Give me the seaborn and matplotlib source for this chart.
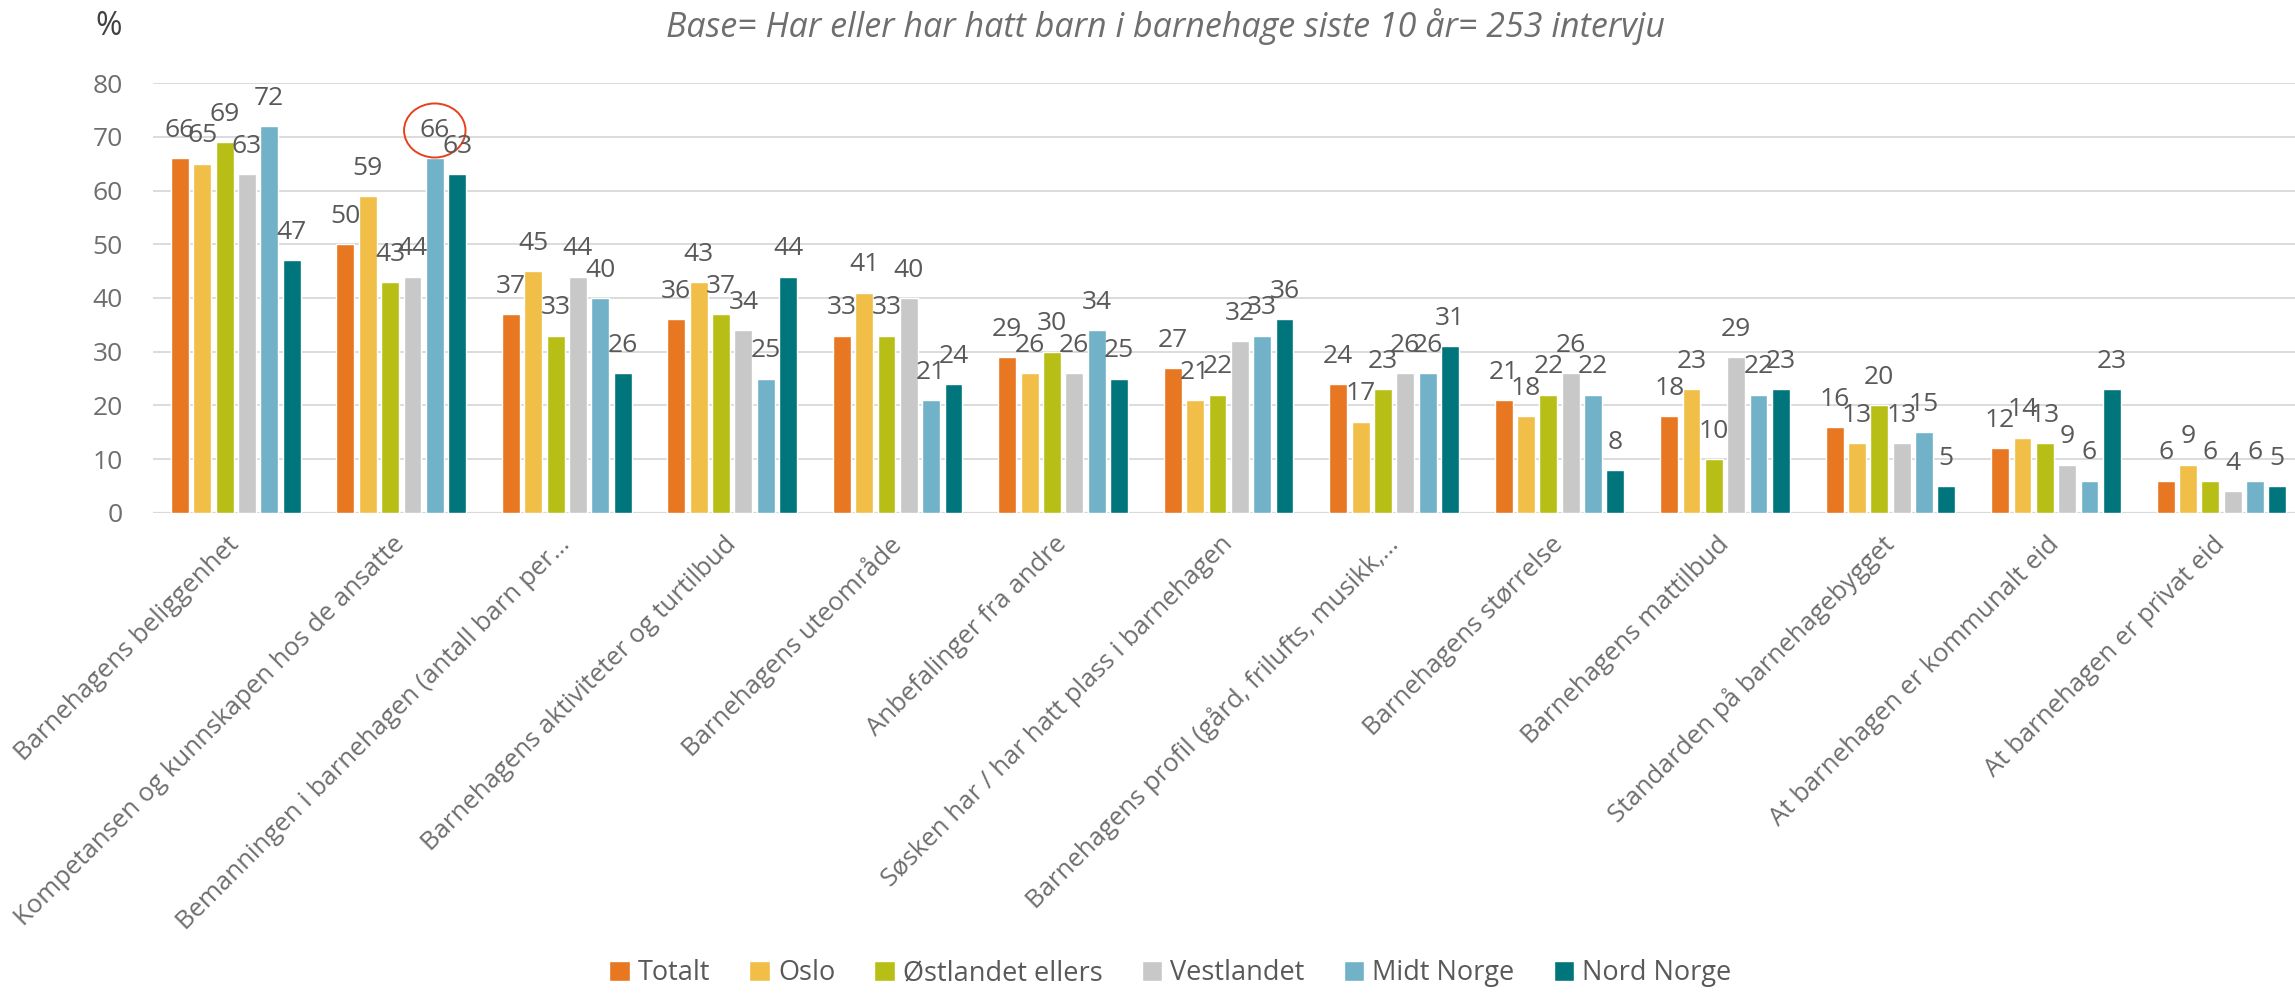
import pandas as pd
import matplotlib
matplotlib.use("Agg")
import matplotlib.pyplot as plt
import seaborn as sns

# data
categories = [
    "Barnehagens beliggenhet",
    "Kompetansen og kunnskapen hos de ansatte",
    "Bemanningen i barnehagen (antall barn per…",
    "Barnehagens aktiviteter og turtilbud",
    "Barnehagens uteområde",
    "Anbefalinger fra andre",
    "Søsken har / har hatt plass i barnehagen",
    "Barnehagens profil (gård, frilufts, musikk,…",
    "Barnehagens størrelse",
    "Barnehagens mattilbud",
    "Standarden på barnehagebygget",
    "At barnehagen er kommunalt eid",
    "At barnehagen er privat eid",
]
regions = ["Totalt", "Oslo", "Østlandet ellers", "Vestlandet", "Midt Norge", "Nord Norge"]
totalt = [66, 50, 37, 36, 33, 29, 27, 24, 21, 18, 16, 12, 6]
oslo = [65, 59, 45, 43, 41, 26, 21, 17, 18, 23, 13, 14, 9]
ostlandet = [69, 43, 33, 37, 33, 30, 22, 23, 22, 10, 20, 13, 6]
vestlandet = [63, 44, 44, 34, 40, 26, 32, 26, 26, 29, 13, 9, 4]
midt_norge = [72, 66, 40, 25, 21, 34, 33, 26, 22, 22, 15, 6, 6]
nord_norge = [47, 63, 26, 44, 24, 25, 36, 31, 8, 23, 5, 23, 5]
colors = ["#E87722", "#F1BE48", "#B7BF16", "#C8C8C8", "#71B2C9", "#00757C"]

series = [totalt, oslo, ostlandet, vestlandet, midt_norge, nord_norge]
rows = []
for reg, vals in zip(regions, series):
    for cat, v in zip(categories, vals):
        rows.append({"kategori": cat, "region": reg, "verdi": v})
df = pd.DataFrame(rows)

sns.set_theme(style="white")
plt.rcParams["font.family"] = ["Open Sans", "DejaVu Sans"]

fig = plt.figure(figsize=(22.95, 9.93), dpi=100)
ax = fig.add_axes([0.0667, 0.4834, 0.9373, 0.4330])

sns.barplot(data=df, x="kategori", y="verdi", hue="region", hue_order=regions,
            palette=colors, width=0.81, gap=0.2, saturation=1, ax=ax)

ax.set_ylim(0, 80)
ax.set_xlim(-0.5, 12.5)
ax.set_yticks(range(0, 81, 10))
ax.yaxis.grid(True, color="#D9D9D9", linewidth=1.3)
ax.set_axisbelow(True)
sns.despine(ax=ax, left=True, bottom=True)
ax.axhline(0, color="#D9D9D9", linewidth=1.6, zorder=0.5)
ax.set_xlabel("")
ax.set_ylabel("")
ax.tick_params(axis="y", length=0, pad=22, labelsize=19, labelcolor="#6E6E6E")
ax.tick_params(axis="x", length=0, pad=20, labelsize=18.5, labelcolor="#6E6E6E")
for lbl in ax.get_xticklabels():
    lbl.set_rotation(45)
    lbl.set_ha("right")
    lbl.set_va("center")
    lbl.set_rotation_mode("anchor")

# value labels
for i, cont in enumerate(ax.containers):
    texts = ax.bar_label(cont, padding=11, fontsize=19, color="#595959")
    if i == 4:
        texts[1].set_bbox(dict(boxstyle="ellipse,pad=0.25", fc="none", ec="#E8401C", lw=1.4))

fig.text(0.0475, 0.973, "%", fontsize=23, color="#404040", ha="center", va="center")
fig.text(0.508, 0.973, "Base= Har eller har hatt barn i barnehage siste 10 år= 253 intervju",
         fontsize=24.5, style="italic", color="#6E6E6E", ha="center", va="center")

handles, labels = ax.get_legend_handles_labels()
ax.legend_.remove()
fig.legend(handles, labels, loc="center", bbox_to_anchor=(0.51, 0.02), ncol=6,
           frameon=False, fontsize=19.5, labelcolor="#595959", handlelength=0.75,
           handleheight=0.75, handletextpad=0.3, columnspacing=1.45)

fig.savefig("out.png", dpi=100)
